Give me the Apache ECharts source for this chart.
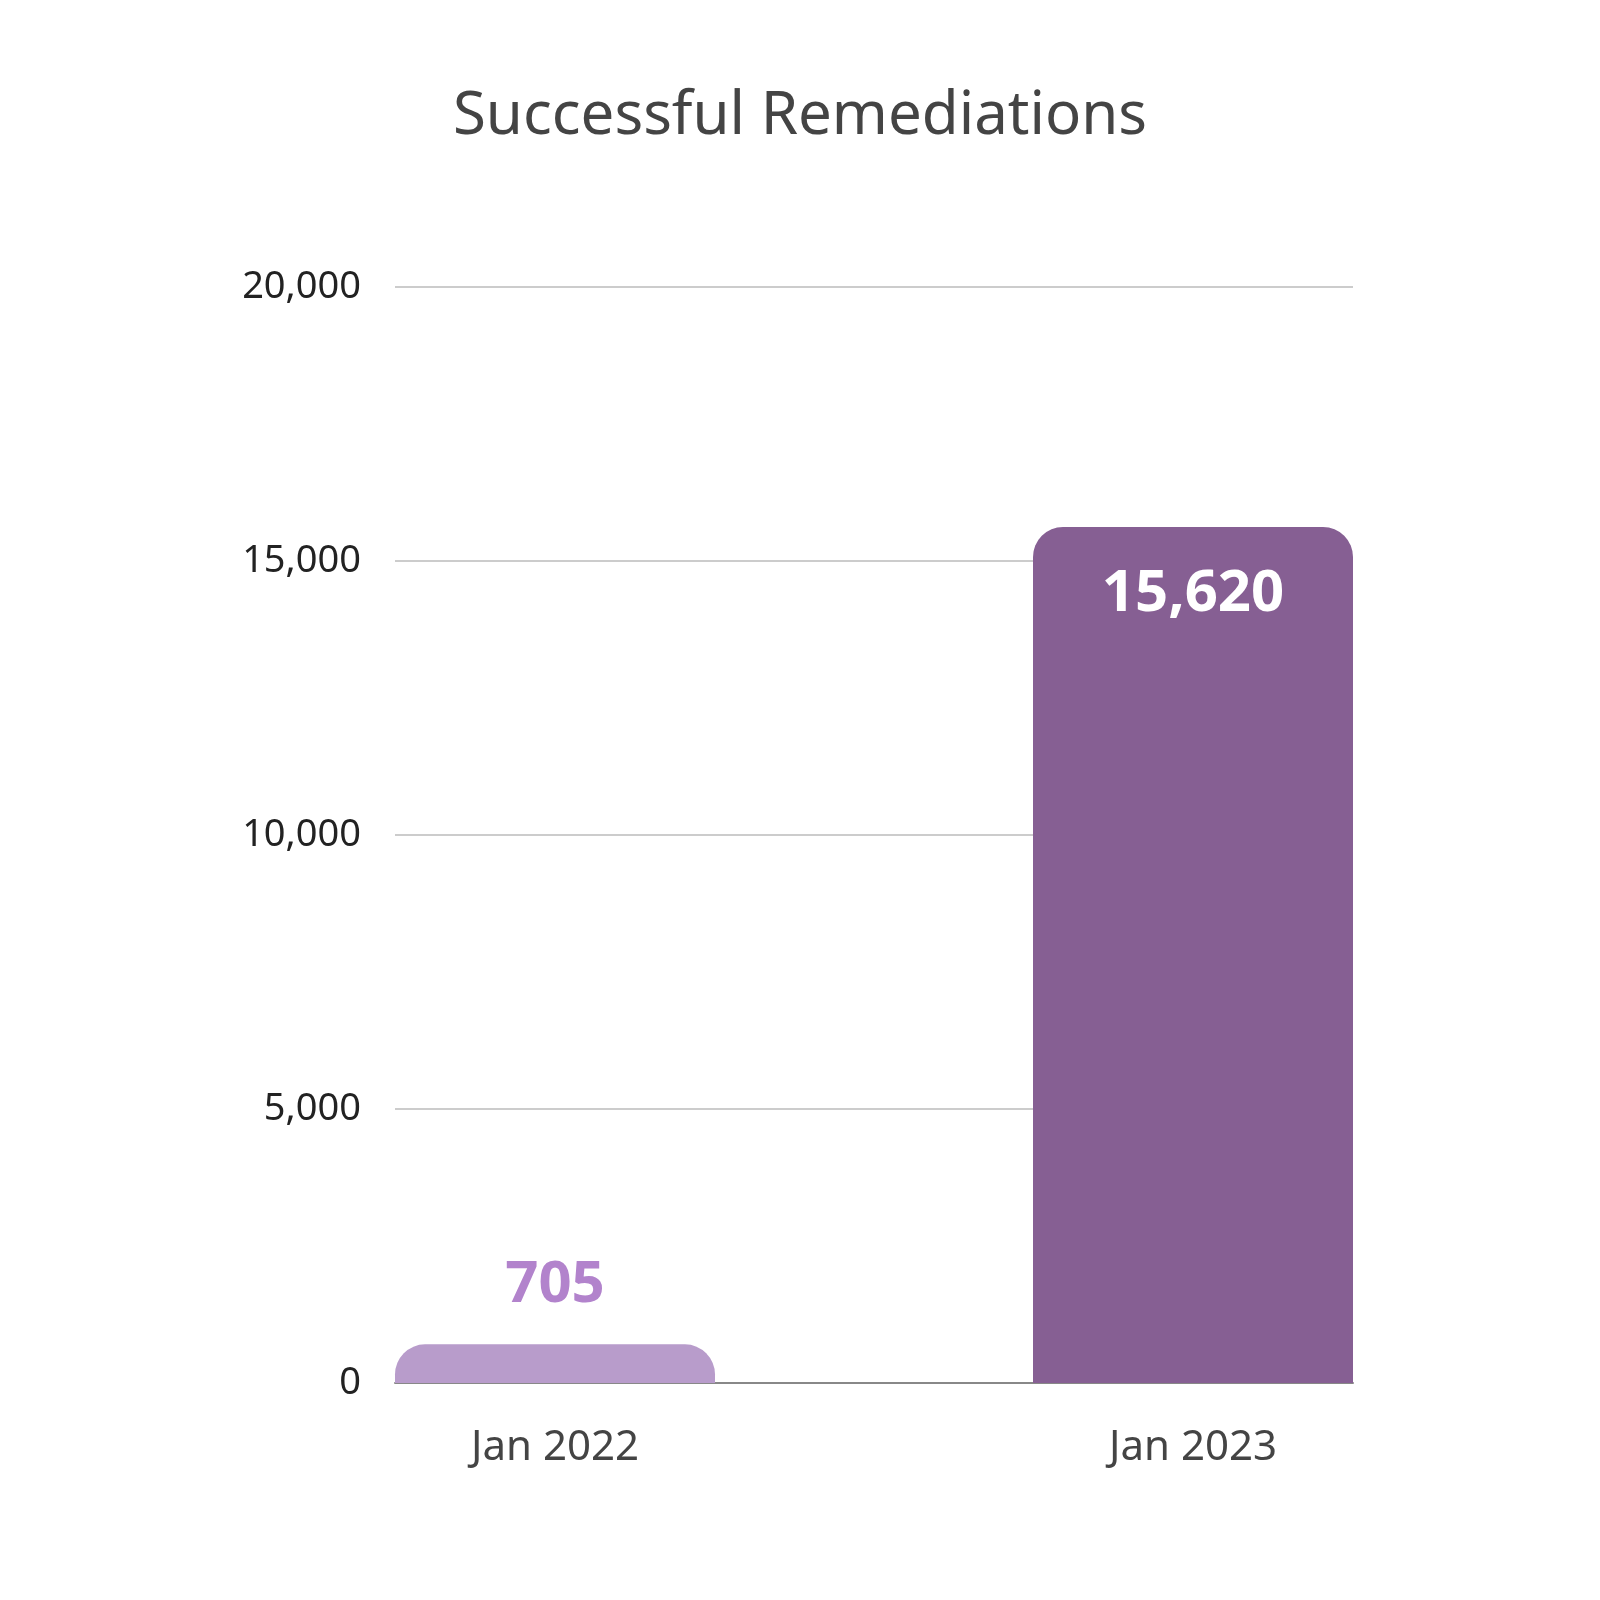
<!DOCTYPE html>
<html><head><meta charset="utf-8">
<script src="https://cdn.jsdelivr.net/npm/echarts@6/dist/echarts.min.js"></script>
<style>html,body{margin:0;background:#fff}#c{width:1600px;height:1600px}</style>
</head><body><div id="c"></div>
<script>
const categories = ['Jan 2022', 'Jan 2023'];
const values = [705, 15620];
const yTicks = [0, 5000, 10000, 15000, 20000];
const colors = ['#b89ccb', '#865f93'];
const labelColors = ['#b283cc', '#ffffff'];

const chart = echarts.init(document.getElementById('c'));
const font = 'Noto Sans';
const fmt = v => v.toLocaleString('en-US');
chart.setOption({
  animation: false,
  title: { text: 'Successful Remediations', left: 'center', top: 82,
    textStyle: { fontFamily: font, fontSize: 60, fontWeight: 'normal', color: '#444' } },
  grid: [
    { left: 236, right: 88, top: 287, bottom: 217 },
    { left: 395, right: 247, top: 287, bottom: 217 }
  ],
  xAxis: [
    { gridIndex: 0, type: 'category', data: categories,
      axisLine: { show: false }, axisTick: { show: false },
      axisLabel: { margin: 44, fontFamily: font, fontSize: 42, color: '#444' } },
    { gridIndex: 1, type: 'category', data: [''],
      axisLine: { lineStyle: { color: '#888', width: 2 } }, axisTick: { show: false }, axisLabel: { show: false } }
  ],
  yAxis: [
    { gridIndex: 0, type: 'value', min: yTicks[0], max: yTicks[yTicks.length-1], interval: 5000, show: false },
    { gridIndex: 1, type: 'value', min: yTicks[0], max: yTicks[yTicks.length-1], interval: 5000,
      axisLine: { show: false }, axisTick: { show: false },
      axisLabel: { margin: 34, fontFamily: font, fontSize: 38, color: '#222', formatter: fmt },
      splitLine: { lineStyle: { color: '#ccc', width: 2 } } }
  ],
  series: [{
    type: 'bar', xAxisIndex: 0, yAxisIndex: 0, barWidth: 320, z: 5,
    data: values.map((v, i) => ({
      value: v,
      itemStyle: { color: colors[i], borderRadius: [30, 30, 0, 0] },
      label: {
        show: true, position: i === 0 ? 'top' : 'insideTop', distance: i === 0 ? 30 : 38,
        formatter: p => fmt(p.value), color: labelColors[i],
        fontFamily: font, fontWeight: 'bold', fontSize: 58
      }
    }))
  }]
});
</script></body></html>
